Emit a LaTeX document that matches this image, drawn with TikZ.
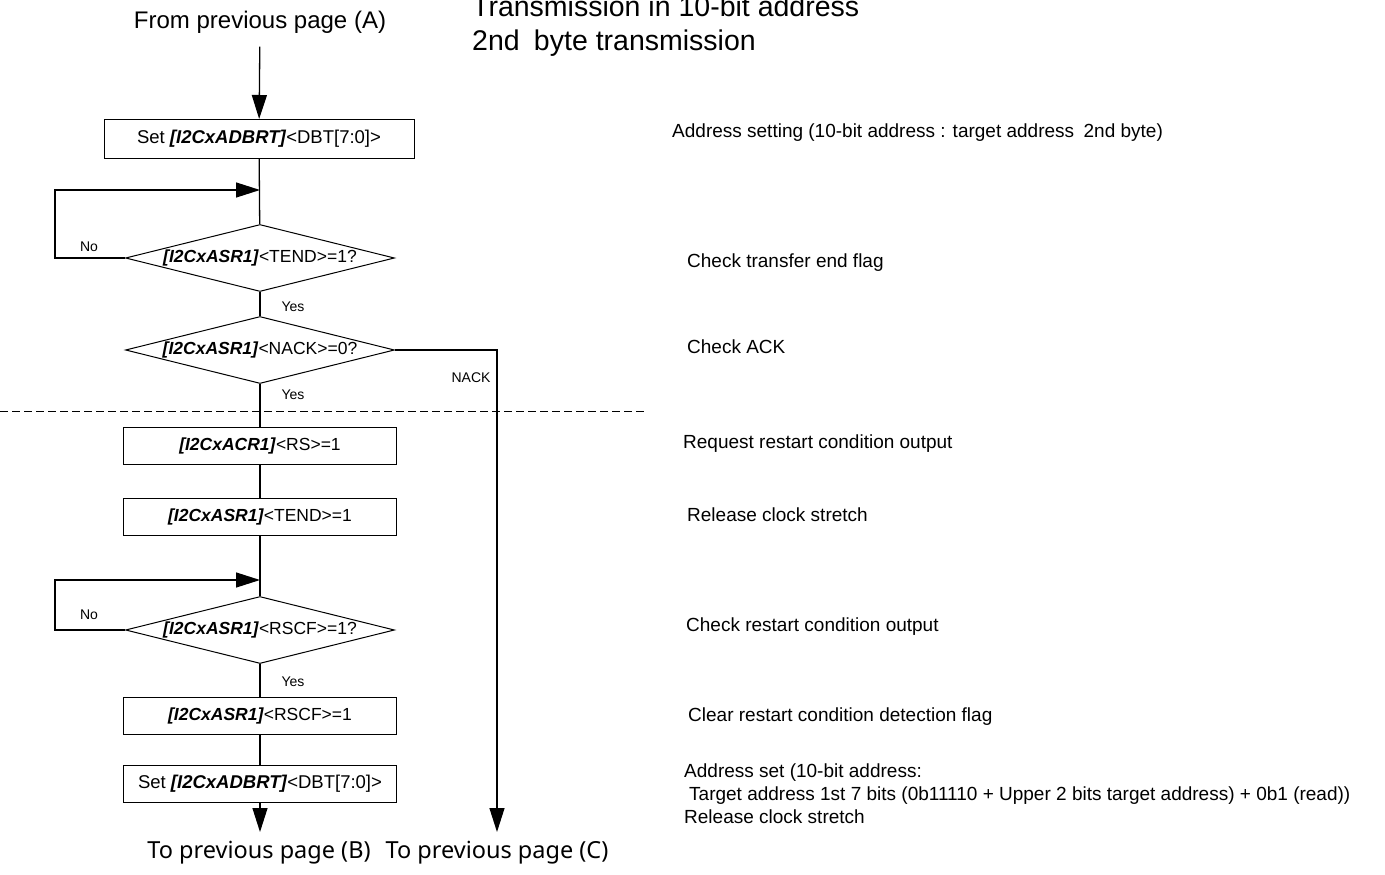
\documentclass[tikz,border=0pt]{standalone}
\usepackage{fontspec}
\setmainfont{Liberation Sans}
\newfontfamily\pagefont{Noto Sans}
\usetikzlibrary{arrows.meta,shapes.geometric}

\newcommand{\reg}[1]{\textbf{\textit{#1}}}

\begin{document}
\begin{tikzpicture}[x=1pt,y=-1pt,
  box/.style={draw,line width=1pt,minimum width=273pt,minimum height=37pt,inner sep=0pt,font=\fontsize{17.5}{20}\selectfont},
  cond/.style={draw,diamond,aspect=4,line width=1pt,minimum width=269pt,minimum height=67pt,inner sep=0pt,font=\fontsize{17.5}{20}\selectfont},
  note/.style={anchor=west,align=left,inner sep=0pt,font=\fontsize{19}{23}\selectfont},
  small/.style={font=\fontsize{14}{16}\selectfont},
  flow/.style={line width=1.3pt},
  arr/.style={line width=1.3pt,-{Triangle[length=24pt,width=15pt]}}]
\useasboundingbox (0,0) rectangle (1385,875);

% Titles
\node[font=\fontsize{24}{28}\selectfont] (from) at (260,22) {From previous page (A)};
\node[anchor=west,align=left,inner sep=0pt,font=\fontsize{28.5}{34}\selectfont] (title) at (472,26)
  {Transmission in 10-bit address\\2nd\enspace byte transmission};

% Steps
\node[box,minimum width=310pt,minimum height=39pt,font=\fontsize{18.5}{20}\selectfont] (b1) at (259,139) {Set \reg{[I2CxADBRT]}<DBT[7:0]>};
\coordinate (j1) at (260,190);
\node[cond] (d1) at (260,258) {\reg{[I2CxASR1]}<TEND>=1?};
\node[cond] (d2) at (260,350) {\reg{[I2CxASR1]}<NACK>=0?};
\node[box] (b2) at (260,445.5) {\reg{[I2CxACR1]}<RS>=1};
\node[box] (b3) at (260,516.5) {\reg{[I2CxASR1]}<TEND>=1};
\coordinate (j2) at (260,580);
\node[cond] (d3) at (260,630) {\reg{[I2CxASR1]}<RSCF>=1?};
\node[box] (b4) at (260,716) {\reg{[I2CxASR1]}<RSCF>=1};
\node[box,font=\fontsize{18.5}{20}\selectfont] (b5) at (260,784) {Set \reg{[I2CxADBRT]}<DBT[7:0]>};
\coordinate (endB) at (260,832);
\coordinate (endC) at (497,832);
\node[font=\pagefont\fontsize{23.5}{26}\selectfont] (toB) at (259,853) {To previous page (B)};
\node[font=\pagefont\fontsize{23.5}{26}\selectfont] (toC) at (497,853) {To previous page (C)};

% Branch labels
\node[small] (no1) at (89,247) {No};
\node[small] (yes1) at (293,307) {Yes};
\node[small] (yes2) at (293,395) {Yes};
\node[small] (nack) at (471,378) {NACK};
\node[small] (no2) at (89,615) {No};
\node[small] (yes3) at (293,682) {Yes};

% Connectors
\draw[arr,shorten <=10pt] (from) -- (b1);
\draw[flow] (b1) -- (d1);
\draw[arr] (d1.west) -- ++(-70,0) |- (j1);
\draw[flow] (d1) -- (d2);
\draw[flow] (d2) -- (b2);
\draw[flow] (b2) -- (b3);
\draw[flow] (b3) -- (d3);
\draw[arr] (d3.west) -- ++(-70,0) |- (j2);
\draw[flow] (d3) -- (b4);
\draw[flow] (b4) -- (b5);
\draw[arr] (b5) -- (endB);
\draw[arr] (d2.east) -| (endC);

% Separator
\draw[line width=1pt,dash pattern=on 8pt off 4pt] (0,411) -- (645,411);

% Notes
\node[note] (n1) at (672,133) {Address setting (10-bit address : target address\enspace 2nd byte)};
\node[note] (n2) at (687,263) {Check transfer end flag};
\node[note] (n3) at (687,347) {Check ACK};
\node[note] (n4) at (683,444) {Request restart condition output};
\node[note] (n5) at (687,515) {Release clock stretch};
\node[note] (n6) at (686,627) {Check restart condition output};
\node[note] (n7) at (688,717) {Clear restart condition detection flag};
\node[note] (n8) at (684,794) {Address set (10-bit address:\\
  \hspace*{5pt}Target address 1st 7 bits (0b11110 + Upper 2 bits target address) + 0b1 (read))\\
  Release clock stretch};

\end{tikzpicture}
\end{document}
